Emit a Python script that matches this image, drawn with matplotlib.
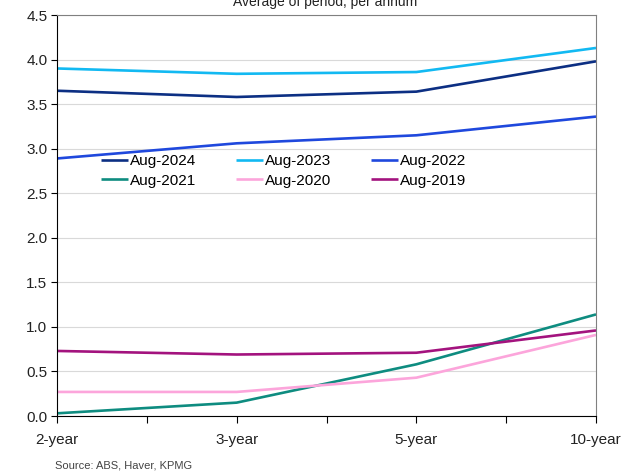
import matplotlib
matplotlib.use("Agg")
import matplotlib.pyplot as plt
from matplotlib.ticker import MultipleLocator, FixedLocator

plt.rcParams['font.family'] = ['Liberation Sans', 'DejaVu Sans']

terms = ["2-year", "3-year", "5-year", "10-year"]
series_names = ["Aug-2024", "Aug-2023", "Aug-2022", "Aug-2021", "Aug-2020", "Aug-2019"]
aug_2024 = [3.65, 3.58, 3.64, 3.98]
aug_2023 = [3.90, 3.84, 3.86, 4.13]
aug_2022 = [2.89, 3.06, 3.15, 3.36]
aug_2021 = [0.03, 0.15, 0.58, 1.14]
aug_2020 = [0.27, 0.27, 0.43, 0.91]
aug_2019 = [0.73, 0.69, 0.71, 0.96]
colors = ["#0C2F83", "#12B9F2", "#1F48DD", "#0E8C80", "#FCA5DB", "#A3137E"]

values = [aug_2024, aug_2023, aug_2022, aug_2021, aug_2020, aug_2019]

fig = plt.figure(figsize=(6.23, 4.72), dpi=100)
ax = fig.add_axes([57 / 623, 1 - 416 / 472, (596 - 57) / 623, (416 - 15) / 472])

x = list(range(len(terms)))
handles = []
for name, vals, c in zip(series_names, values, colors):
    h, = ax.plot(x, vals, color=c, lw=1.9, label=name, solid_capstyle='butt')
    handles.append(h)

ax.set_xlim(0, len(terms) - 1)
ax.set_ylim(0, 4.5)
ax.yaxis.set_major_locator(MultipleLocator(0.5))
ax.yaxis.set_major_formatter(matplotlib.ticker.FormatStrFormatter('%.1f'))
ax.set_xticks(x)
ax.set_xticklabels(terms)
ax.xaxis.set_minor_locator(FixedLocator([0.5, 1.5, 2.5]))

ax.grid(axis='y', color='#D9D9D9', lw=0.8)
ax.set_axisbelow(True)
for side in ['top', 'right']:
    ax.spines[side].set_color('#808080')
    ax.spines[side].set_linewidth(0.8)
for side in ['left', 'bottom']:
    ax.spines[side].set_color('#000000')
    ax.spines[side].set_linewidth(0.8)

ax.tick_params(axis='y', which='major', length=4, width=0.8, direction='out', labelsize=11, pad=3)
ax.tick_params(axis='x', which='major', length=5, width=0.8, direction='out', labelsize=11, pad=7)
ax.tick_params(axis='x', which='minor', length=5, width=0.8, direction='out')
for lbl in ax.get_xticklabels() + ax.get_yticklabels():
    lbl.set_color('#222222')

# legend fills row by row: reorder so three series sit on each row
order = [0, 3, 1, 4, 2, 5]
leg = ax.legend([handles[i] for i in order], [series_names[i] for i in order],
                ncol=3, loc='upper left', bbox_to_anchor=(0.07, 0.668), frameon=False,
                fontsize=11, handlelength=1.8, handletextpad=0.1, columnspacing=2.6,
                labelspacing=0.35, borderaxespad=0)

fig.text(325 / 623, 1 - 2 / 472, "Average of period, per annum", ha='center', va='center',
         fontsize=10, color='#222222')
fig.text(55 / 623, 1 - 466 / 472, "Source: ABS, Haver, KPMG", ha='left', va='center',
         fontsize=8, color='#444444')

fig.savefig("out.png", dpi=100)
